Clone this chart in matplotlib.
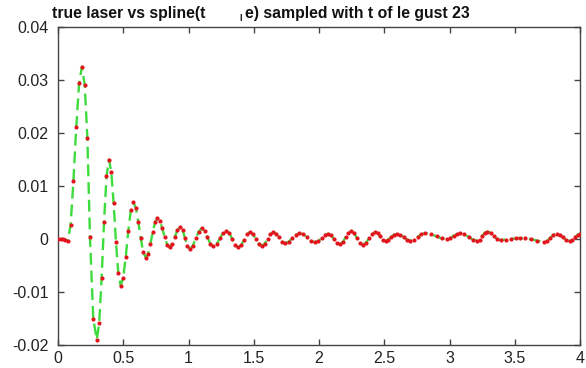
import numpy as np
import matplotlib
matplotlib.use("Agg")
import matplotlib.pyplot as plt

# sample times and laser values
t = [0.00, 0.02, 0.04, 0.055, 0.075,
     0.0966, 0.1182, 0.1398, 0.1614, 0.183,
     0.205, 0.225, 0.245, 0.27, 0.297,
     0.3156, 0.3342, 0.3528, 0.3714, 0.39,
     0.408, 0.426, 0.444, 0.462, 0.48,
     0.4994, 0.5188, 0.5382, 0.5576, 0.577,
     0.596, 0.615, 0.634, 0.653, 0.672,
     0.69, 0.708, 0.726, 0.744, 0.762,
     0.7806, 0.7992, 0.8178, 0.8364, 0.855,
     0.875, 0.895, 0.915, 0.935,
     0.954, 0.9725, 0.991, 1.01,
     1.0325, 1.055, 1.0775, 1.10,
     1.1225, 1.145, 1.1675, 1.19,
     1.215, 1.24, 1.265, 1.29,
     1.3125, 1.335, 1.3575, 1.38,
     1.4025, 1.425, 1.4475, 1.47,
     1.4925, 1.515, 1.5375, 1.56,
     1.5825, 1.605, 1.6275, 1.65,
     1.6725, 1.695, 1.7175, 1.74,
     1.7675, 1.795, 1.8225, 1.85,
     1.88, 1.91, 1.94, 1.97,
     1.995, 2.02, 2.045, 2.07,
     2.0925, 2.115, 2.1375, 2.16,
     2.181, 2.2025, 2.224, 2.245,
     2.2675, 2.29, 2.3125, 2.335,
     2.359, 2.3825, 2.406, 2.43,
     2.45, 2.47, 2.49, 2.51,
     2.531, 2.5525, 2.574, 2.595,
     2.621, 2.6475, 2.674, 2.70,
     2.7275, 2.755, 2.7825, 2.81,
     2.855, 2.90, 2.94, 2.98,
     3.005, 3.03, 3.055, 3.08,
     3.1125, 3.145, 3.1775, 3.21,
     3.23, 3.25, 3.27, 3.29,
     3.315, 3.34, 3.365, 3.39,
     3.43, 3.47, 3.505, 3.54, 3.58, 3.62, 3.67, 3.72,
     3.745, 3.77, 3.795, 3.82,
     3.845, 3.87, 3.895, 3.92,
     3.94, 3.96, 3.98, 4.00]

y = [0.0, 0.0, 0.0, -0.0001, -0.0004,
     0.0027, 0.0110, 0.0211, 0.0294, 0.0325,
     0.0290, 0.0190, 0.0003, -0.0150, -0.0190,
     -0.0158, -0.0073, 0.0033, 0.0118, 0.0150,
     0.0127, 0.0068, -0.0006, -0.0065, -0.0088,
     -0.0073, -0.0034, 0.0015, 0.0054, 0.0069,
     0.0059, 0.0033, 0.0001, -0.0025, -0.0035,
     -0.0028, -0.0009, 0.0013, 0.0032, 0.0039,
     0.0034, 0.0020, 0.0003, -0.0011, -0.0016,
     -0.0010, 0.0004, 0.0017, 0.0023,
     0.0017, 0.0002, -0.0013, -0.0019,
     -0.0013, 0.0001, 0.0014, 0.0020,
     0.0015, 0.0003, -0.0009, -0.0014,
     -0.0010, 0.0001, 0.0012, 0.0016,
     0.0011, 0.0000, -0.0011, -0.0016,
     -0.0012, -0.0002, 0.0009, 0.0013,
     0.0009, 0.0000, -0.0009, -0.0013,
     -0.0009, 0.0000, 0.0009, 0.0013,
     0.0010, 0.0003, -0.0005, -0.0008,
     -0.0005, 0.0002, 0.0008, 0.0011,
     0.0009, 0.0003, -0.0004, -0.0006,
     -0.0004, 0.0002, 0.0008, 0.0010,
     0.0007, 0.0000, -0.0007, -0.0010,
     -0.0006, 0.0003, 0.0011, 0.0015,
     0.0011, 0.0002, -0.0007, -0.0011,
     -0.0007, 0.0001, 0.0009, 0.0013,
     0.0011, 0.0005, -0.0001, -0.0003,
     -0.0001, 0.0004, 0.0008, 0.0010,
     0.0008, 0.0004, -0.0001, -0.0003,
     -0.0001, 0.0004, 0.0009, 0.0011,
     0.0009, 0.0005, 0.0001, 0.0000,
     0.0002, 0.0006, 0.0009, 0.0011,
     0.0009, 0.0004, -0.0001, -0.0003,
     -0.0001, 0.0006, 0.0012, 0.0014,
     0.0012, 0.0006, 0.0000, -0.0002,
     -0.0001, 0.0000, 0.0001, 0.0002, 0.0001, 0.0000, -0.0003, -0.0006,
     -0.0004, 0.0002, 0.0008, 0.0010,
     0.0008, 0.0003, -0.0002, -0.0004,
     -0.0002, 0.0003, 0.0008, 0.0010]

xticks = [0, 0.5, 1, 1.5, 2, 2.5, 3, 3.5, 4]
xticklabels = ["0", "0.5", "1", "1.5", "2", "2.5", "3", "3.5", "4"]
yticks = [-0.02, -0.01, 0, 0.01, 0.02, 0.03, 0.04]
yticklabels = ["-0.02", "-0.01", "0", "0.01", "0.02", "0.03", "0.04"]

plt.rcParams['font.family'] = ['Liberation Sans', 'DejaVu Sans']

fig = plt.figure(figsize=(5.86, 3.68), dpi=100)
ax = fig.add_axes([0.099, 0.0625, 0.891, 0.8641])

# spline (green dashed) and sampled laser (red dots)
ax.plot(t, y, color='#3ddc3d', lw=1.7, linestyle=(0, (5, 2.5)), zorder=2)
ax.plot(t, y, linestyle='none', marker='o', ms=3.0, mew=0,
        color='#e4141e', zorder=3)

ax.set_xlim(0, 4)
ax.set_ylim(-0.02, 0.04)
ax.set_xticks(xticks)
ax.set_xticklabels(xticklabels)
ax.set_yticks(yticks)
ax.set_yticklabels(yticklabels)

for s in ax.spines.values():
    s.set_color('#444444')
    s.set_linewidth(1.0)
ax.tick_params(direction='in', length=4, width=1, color='#444444',
               top=True, right=True, labelsize=11.5, labelcolor='#222222')
ax.tick_params(axis='x', pad=4)
ax.tick_params(axis='y', pad=7)

fig.text(52 / 586, 1 - 18 / 368, "true laser vs spline(t", fontsize=11.3,
         fontweight='bold', ha='left', va='baseline', color='#111111')
fig.text(239 / 586, 1 - 21 / 368, "l", fontsize=6.5,
         fontweight='bold', ha='left', va='baseline', color='#111111')
fig.text(245 / 586, 1 - 18 / 368, "e) sampled with t of le gust 23",
         fontsize=11.3, fontweight='bold', ha='left', va='baseline',
         color='#111111')

fig.savefig("out.png", dpi=100)
